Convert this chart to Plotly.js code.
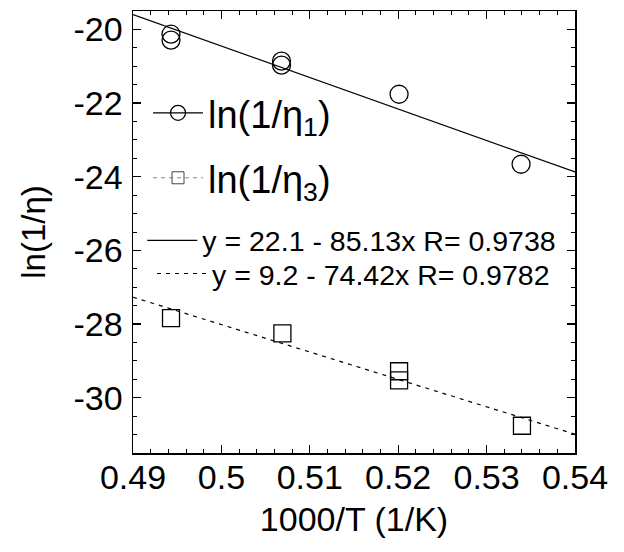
<!DOCTYPE html>
<html>
<head>
<meta charset="utf-8">
<script src="https://cdn.plot.ly/plotly-3.0.1.min.js"></script>
<style>html,body{margin:0;padding:0;background:#fff;}#chart{width:624px;height:552px;}</style>
</head>
<body>
<div id="chart"></div>
<script>
// Data
const eta1X = [0.4943, 0.4943, 0.5068, 0.5068, 0.5201, 0.5339];
const eta1Y = [-20.13, -20.29, -20.86, -20.97, -21.76, -23.66];
const eta3X = [0.4943, 0.5069, 0.5201, 0.5201, 0.5340];
const eta3Y = [-27.84, -28.25, -29.28, -29.53, -30.76];
// Fit line end points (from the printed equations)
const fitX = [0.49, 0.54];
const fit1Y = [-19.60, -23.87];
const fit3Y = [-27.27, -30.99];
const fit1Label = 'y = 22.1 - 85.13x R= 0.9738';
const fit3Label = 'y = 9.2 - 74.42x R= 0.9782';
const eta1Label = 'ln(1/η<sub>1</sub>)';
const eta3Label = 'ln(1/η<sub>3</sub>)';
const xTickVals = [0.49, 0.50, 0.51, 0.52, 0.53, 0.54];
const xTickText = ['0.49', '0.5', '0.51', '0.52', '0.53', '0.54'];
const yTickVals = [-30, -28, -26, -24, -22, -20];
const yTickText = ['-30', '-28', '-26', '-24', '-22', '-20'];

const FONT = 'Liberation Sans, Arial, sans-serif';

const traces = [
  {x: eta1X, y: eta1Y, mode: 'markers', showlegend: false,
   marker: {symbol: 'circle-open', size: 18, color: '#000', line: {width: 1.3, color: '#000'}}},
  {x: eta3X, y: eta3Y, mode: 'markers', showlegend: false,
   marker: {symbol: 'square-open', size: 17, color: '#000', line: {width: 1.3, color: '#000'}}},
  {x: [null], y: [null], mode: 'lines+markers', name: eta1Label, legend: 'legend',
   line: {color: '#000', width: 1.2},
   marker: {symbol: 'circle-open', size: 15, color: '#000', line: {width: 1.2, color: '#000'}}},
  {x: [null], y: [null], mode: 'lines+markers', name: eta3Label, legend: 'legend2',
   line: {color: '#888', width: 1, dash: '4px,4px'},
   marker: {symbol: 'square-open', size: 12, color: '#444', line: {width: 1, color: '#444'}}},
  {x: fitX, y: fit1Y, mode: 'lines', name: fit1Label, legend: 'legend3',
   line: {color: '#000', width: 1.2}},
  {x: fitX, y: fit3Y, mode: 'lines', name: fit3Label, legend: 'legend4',
   line: {color: '#000', width: 1.2, dash: '4px,5px'}}
];

const legBase = {bgcolor: 'rgba(0,0,0,0)', borderwidth: 0, xanchor: 'left', yanchor: 'middle',
  itemwidth: 50, tracegroupgap: 0};

const layout = {
  width: 624, height: 552,
  margin: {l: 133, r: 49, t: 11, b: 99},
  paper_bgcolor: '#fff', plot_bgcolor: '#fff',
  font: {family: FONT, color: '#000'},
  showlegend: true,
  xaxis: {
    range: [0.49, 0.54], tickvals: xTickVals, ticktext: xTickText,
    ticks: 'inside', ticklen: 8, tickwidth: 1.2, tickcolor: '#000',
    minor: {dtick: 0.002, tick0: 0.49, ticks: 'inside', ticklen: 4, tickwidth: 1, tickcolor: '#000'},
    showline: true, linecolor: '#000', linewidth: 1.5, mirror: 'allticks',
    showgrid: false, zeroline: false,
    tickfont: {size: 34, family: FONT},
    ticklabelstandoff: -6,
    title: {text: '1000/T (1/K)', font: {size: 34, family: FONT}, standoff: 12},
    automargin: false
  },
  yaxis: {
    range: [-31.5, -19.5], tickvals: yTickVals, ticktext: yTickText,
    ticks: 'inside', ticklen: 8, tickwidth: 1.2, tickcolor: '#000',
    minor: {dtick: 0.5, tick0: -20, ticks: 'inside', ticklen: 4, tickwidth: 1, tickcolor: '#000'},
    showline: true, linecolor: '#000', linewidth: 1.5, mirror: 'allticks',
    showgrid: false, zeroline: false,
    tickfont: {size: 34, family: FONT},
    ticklabelstandoff: 2,
    title: {text: 'ln(1/η)', font: {size: 33, family: FONT}, standoff: 18},
    automargin: false
  },
  legend: Object.assign({}, legBase, {x: 0.034, y: 0.769, font: {size: 38, family: FONT}}),
  legend2: Object.assign({}, legBase, {x: 0.034, y: 0.622, font: {size: 38, family: FONT}}),
  legend3: Object.assign({}, legBase, {x: 0.021, y: 0.480, font: {size: 28.5, family: FONT}}),
  legend4: Object.assign({}, legBase, {x: 0.043, y: 0.405, font: {size: 28.5, family: FONT}})
};

Plotly.newPlot('chart', traces, layout, {displayModeBar: false, staticPlot: true});
</script>
</body>
</html>
